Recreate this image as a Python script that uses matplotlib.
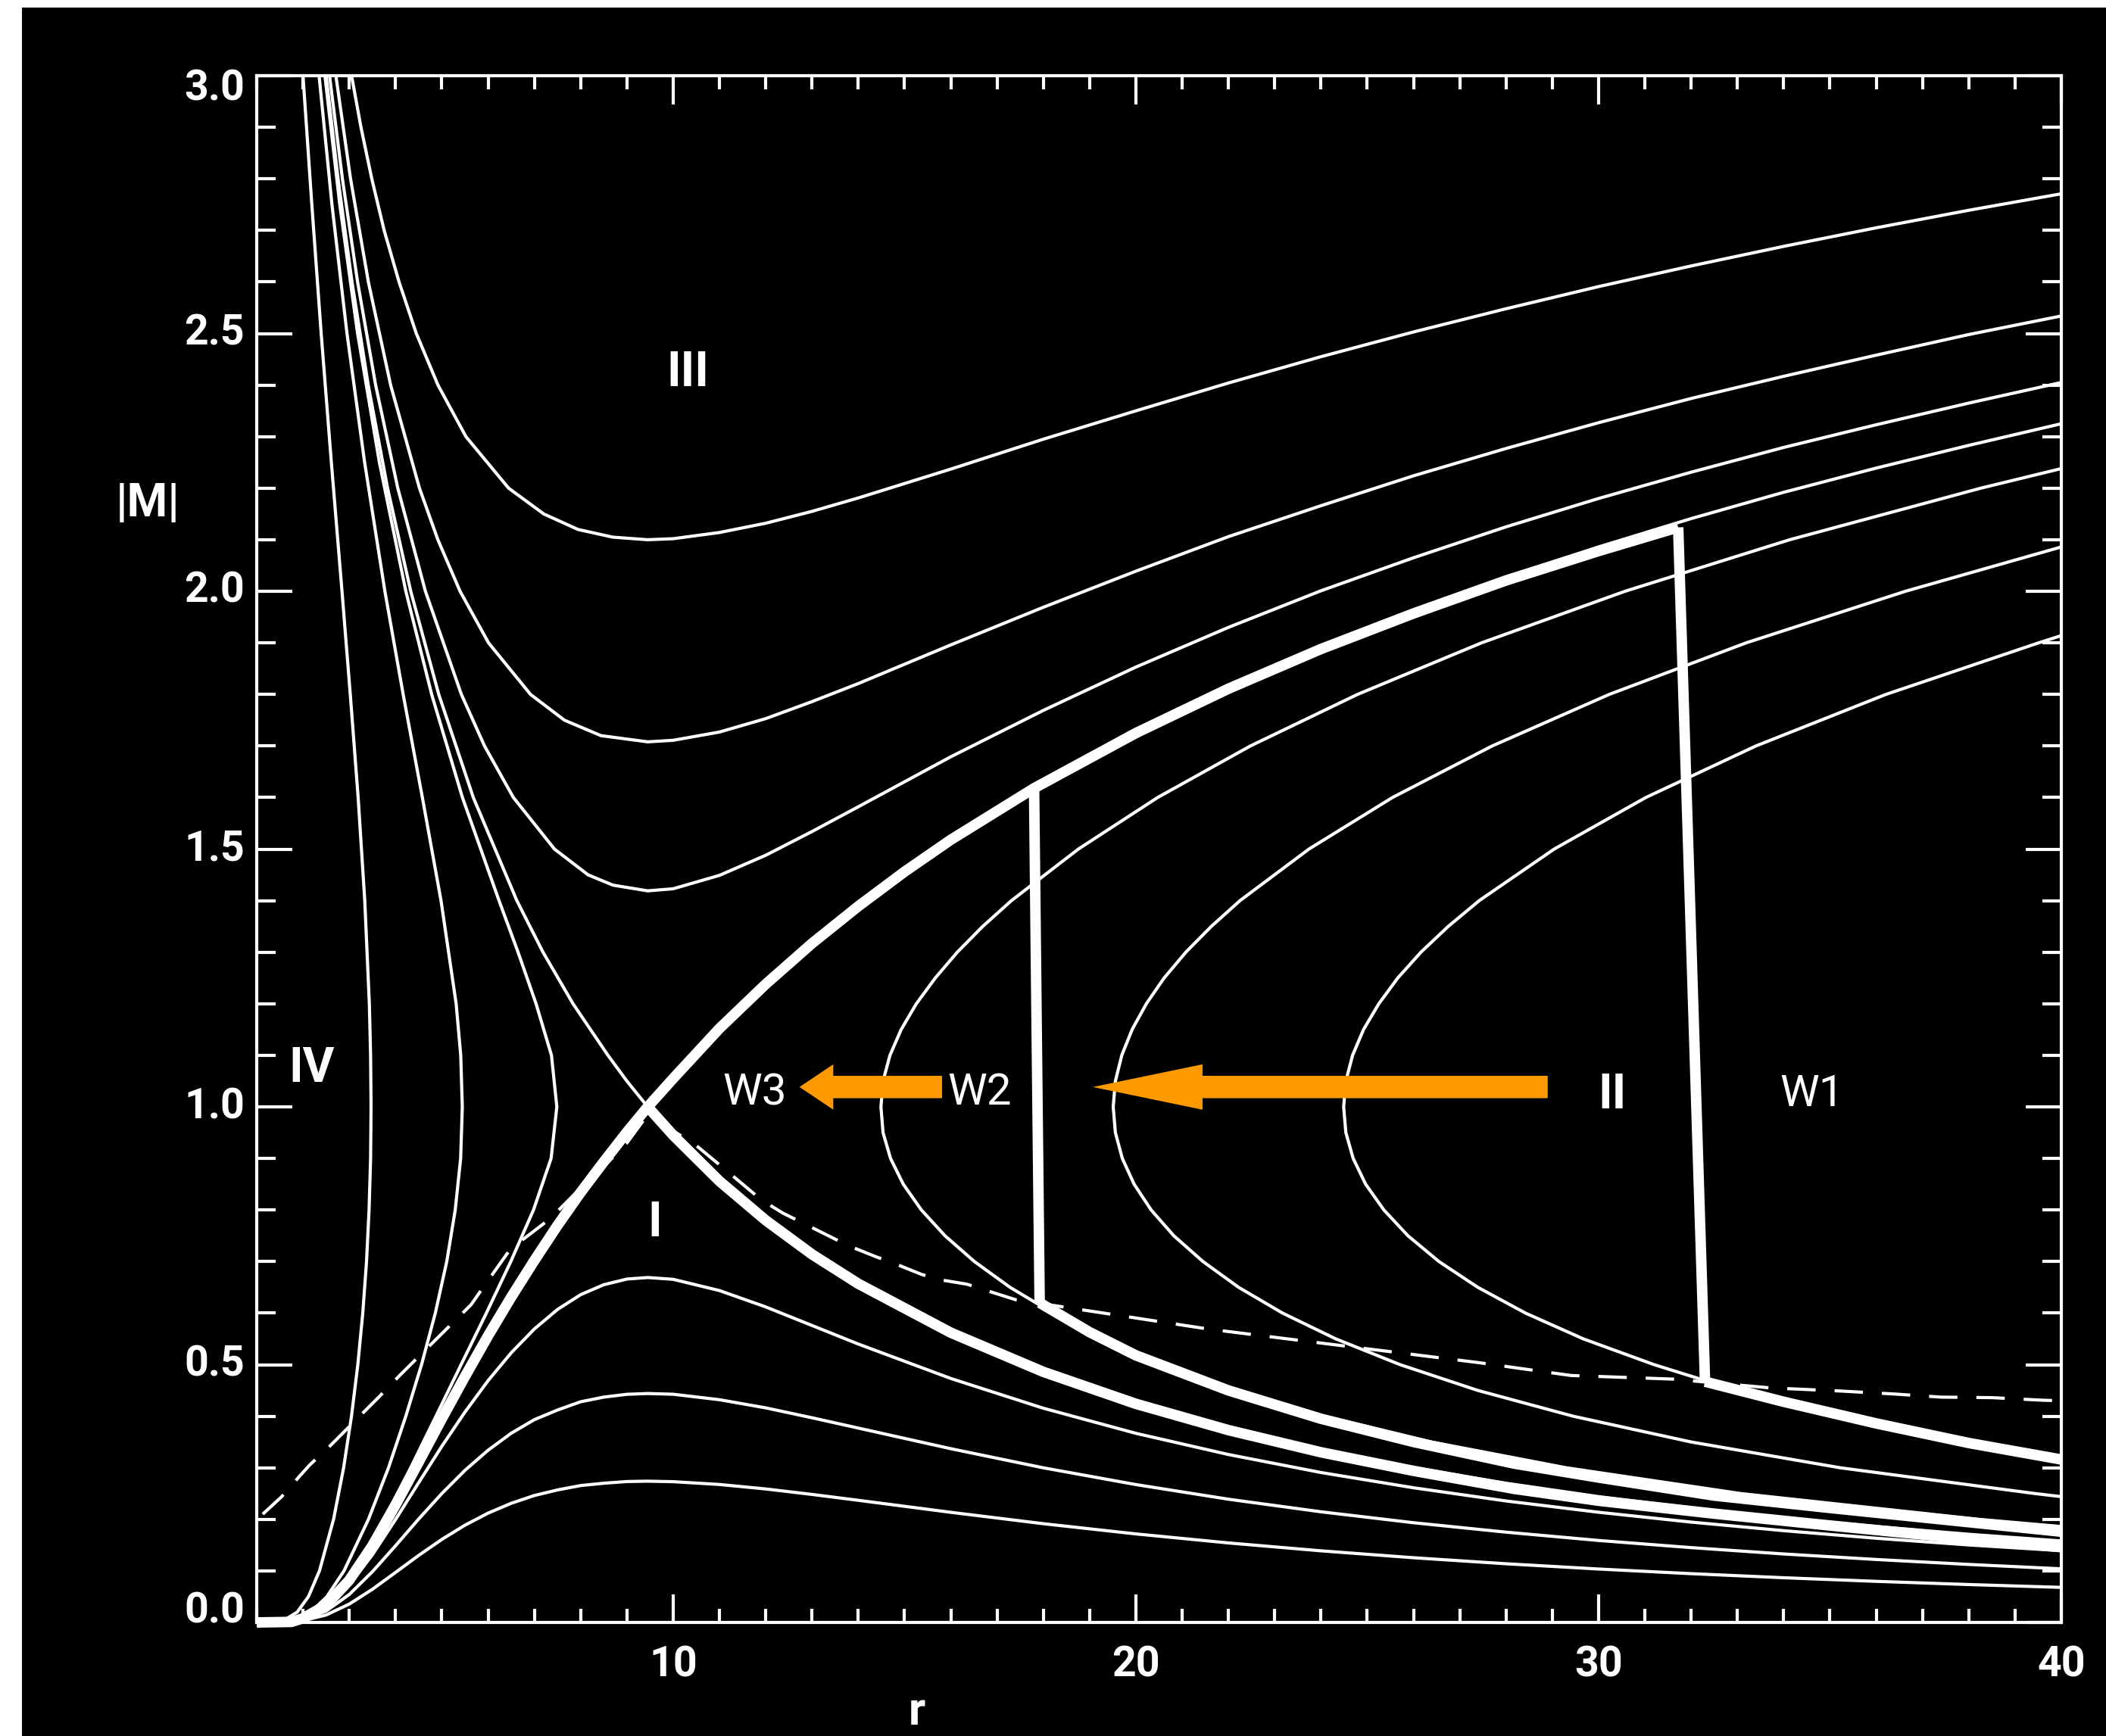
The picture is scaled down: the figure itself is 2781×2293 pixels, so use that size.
import matplotlib
matplotlib.use("Agg")
import matplotlib.pyplot as plt
from matplotlib.patches import Polygon, Rectangle
from matplotlib.transforms import blended_transform_factory

# ---------------------------------------------------------------
# Solution curves |M|(r): each curve is a pair of lists (r, M)
# ---------------------------------------------------------------
# family above the X-point (region III)
upper1_r = [3.05, 3.253, 3.487, 3.754, 4.076, 4.449, 4.917, 5.521, 6.444, 7.204, 7.941, 8.694, 9.45, 10, 11, 12,
            13, 14, 16, 18, 20, 22, 24, 26, 28, 30, 32, 34, 36, 38, 40]
upper1_m = [3.0, 2.9, 2.8, 2.7, 2.6, 2.5, 2.4, 2.3, 2.2, 2.15, 2.12, 2.105, 2.10, 2.102, 2.114, 2.132,
            2.155, 2.181, 2.237, 2.295, 2.350, 2.404, 2.455, 2.503, 2.548, 2.591, 2.631, 2.669, 2.705, 2.739, 2.771]
upper2_r = [2.711, 3.028, 3.413, 3.894, 4.517, 4.915, 5.395, 6.01, 6.917, 7.65, 8.44, 9.45, 10, 11, 12, 13, 14,
            16, 18, 20, 22, 24, 26, 28, 30, 32, 34, 36, 38, 40]
upper2_m = [3.0, 2.8, 2.6, 2.4, 2.2, 2.1, 2.0, 1.9, 1.8, 1.75, 1.72, 1.708, 1.711, 1.727, 1.753, 1.786, 1.821,
            1.896, 1.969, 2.039, 2.106, 2.166, 2.224, 2.277, 2.327, 2.374, 2.417, 2.458, 2.498, 2.534]
upper3_r = [2.574, 2.852, 3.18, 3.570, 4.049, 4.646, 5.423, 5.923, 6.547, 7.435, 8.162, 8.70, 9.45, 10, 11, 12,
            13, 14, 16, 18, 20, 22, 24, 26, 28, 30, 32, 34, 36, 38, 40]
upper3_m = [3.0, 2.8, 2.6, 2.4, 2.2, 2.0, 1.8, 1.7, 1.6, 1.5, 1.45, 1.43, 1.419, 1.423, 1.449, 1.488,
            1.534, 1.582, 1.679, 1.769, 1.853, 1.930, 2.001, 2.065, 2.125, 2.180, 2.231, 2.279, 2.323, 2.365, 2.405]

# family left of the X-point (region IV)
left1_r = [2.0, 2.191, 2.393, 2.613, 2.843, 3.022, 3.192, 3.335, 3.434, 3.461, 3.471, 3.461, 3.428, 3.373, 3.292,
           3.185, 3.048, 2.878, 2.661, 2.356, 2.117, 1.875, 1.603]
left1_m = [3.0, 2.75, 2.5, 2.25, 2.0, 1.8, 1.6, 1.4, 1.2, 1.1, 1.0, 0.9, 0.8, 0.7, 0.6,
           0.5, 0.4, 0.3, 0.2, 0.1, 0.05, 0.02, 0.005]
left2_r = [2.348, 2.626, 2.951, 3.332, 3.770, 4.165, 4.580, 4.983, 5.310, 5.409, 5.443, 5.407, 5.290, 5.107, 4.860,
           4.562, 4.222, 3.848, 3.415, 2.886, 2.516, 2.168, 1.806]
left2_m = [3.0, 2.75, 2.5, 2.25, 2.0, 1.8, 1.6, 1.4, 1.2, 1.1, 1.0, 0.9, 0.8, 0.7, 0.6,
           0.5, 0.4, 0.3, 0.2, 0.1, 0.05, 0.02, 0.005]
left3_r = [2.474, 2.795, 3.18, 3.651, 4.223, 4.781, 5.446, 6.237, 6.648, 7.037, 7.370, 7.486, 7.362, 6.981, 6.491,
           5.963, 5.417, 4.874, 4.327, 3.754, 3.101, 2.67, 2.272, 1.874]
left3_m = [3.0, 2.75, 2.5, 2.25, 2.0, 1.8, 1.6, 1.4, 1.3, 1.2, 1.1, 1.0, 0.9, 0.8, 0.7,
           0.6, 0.5, 0.4, 0.3, 0.2, 0.1, 0.05, 0.02, 0.005]

# thin critical solutions through the X-point
crit_dec_r = [2.5, 2.758, 3.059, 3.41, 3.828, 4.329, 4.934, 5.681, 6.622, 7.187, 7.836, 8.59, 9.0, 9.45, 10, 11,
              12, 13, 14, 16, 18, 20, 22, 24, 26, 28, 30, 32, 34, 36, 38, 40]
crit_dec_m = [3.0, 2.8, 2.6, 2.4, 2.2, 2.0, 1.8, 1.6, 1.4, 1.3, 1.2, 1.1, 1.05, 1.0, 0.945, 0.856,
              0.78, 0.714, 0.657, 0.562, 0.487, 0.426, 0.376, 0.334, 0.300, 0.270, 0.244, 0.222, 0.2025, 0.186,
              0.171, 0.158]
crit_acc_r = [1.0, 1.75, 2.0, 2.5, 3.0, 3.5, 4.0, 4.5, 5.0, 5.5, 6.0, 6.5, 7.0, 7.5, 8.0, 8.5, 9.0, 9.45, 10, 11,
              12, 13, 14, 15, 16, 18, 20, 22, 24, 26, 28, 30, 32, 34, 36, 38, 40]
crit_acc_m = [0.0, 0.001, 0.008, 0.0335, 0.082, 0.149, 0.228, 0.311, 0.395, 0.477, 0.556, 0.631, 0.702, 0.77, 0.834,
              0.8935, 0.951, 1.0, 1.055, 1.152, 1.238, 1.317, 1.389, 1.456, 1.518, 1.629, 1.727, 1.814, 1.892, 1.962,
              2.027, 2.086, 2.141, 2.192, 2.239, 2.283, 2.325]

# region II curves (turning points at |M| = 1)
wind1_r = [40, 38.21, 33.07, 29.30, 26.39, 24.08, 22.19, 20.62, 19.31, 18.21, 17.28, 16.51, 15.875, 15.365, 14.973,
           14.698, 14.536, 14.49, 14.536, 14.685, 14.927, 15.255, 15.665, 16.14, 16.69, 17.31, 18.757, 20.47,
           22.475, 24.79, 27.47, 30.57, 34.13, 38.26, 40]
wind1_m = [0.186, 0.2, 0.25, 0.3, 0.35, 0.4, 0.45, 0.5, 0.55, 0.6, 0.65, 0.7, 0.75, 0.8, 0.85,
           0.9, 0.95, 1.0, 1.05, 1.1, 1.15, 1.2, 1.25, 1.3, 1.35, 1.4, 1.5, 1.6,
           1.7, 1.8, 1.9, 2.0, 2.1, 2.2, 2.238]
wind2_r = [40, 39.43, 35.22, 32.0, 29.45, 27.39, 25.71, 24.32, 23.17, 22.22, 21.45, 20.82, 20.33, 19.962, 19.707,
           19.557, 19.51, 19.557, 19.695, 19.919, 20.226, 20.61, 21.08, 21.63, 22.25, 23.74, 25.545, 27.70, 30.23,
           33.19, 36.63, 40]
wind2_m = [0.244, 0.25, 0.3, 0.35, 0.4, 0.45, 0.5, 0.55, 0.6, 0.65, 0.7, 0.75, 0.8, 0.85, 0.9,
           0.95, 1.0, 1.05, 1.1, 1.15, 1.2, 1.25, 1.3, 1.35, 1.4, 1.5, 1.6, 1.7, 1.8,
           1.9, 2.0, 2.086]
wind3_r = [32.38, 31.20, 29.67, 28.42, 27.39, 26.55, 25.88, 25.36, 24.965, 24.696, 24.538, 24.49, 24.538, 24.683,
           24.92, 25.25, 25.66, 26.16, 26.75, 27.42, 29.04, 31.02, 33.40, 36.21, 39.51, 40]
wind3_m = [0.467, 0.5, 0.55, 0.6, 0.65, 0.7, 0.75, 0.8, 0.85, 0.9, 0.95, 1.0, 1.05, 1.1,
           1.15, 1.2, 1.25, 1.3, 1.35, 1.4, 1.5, 1.6, 1.7, 1.8, 1.9, 1.914]

# region I curves (subsonic breezes)
breeze_r = [2.0, 2.5, 3.0, 3.5, 4.0, 4.5, 5.0, 5.5, 6.0, 6.5, 7.0, 7.5, 8.0, 8.5, 9.0, 9.45, 10, 11, 12, 13, 14,
            16, 18, 20, 22, 24, 26, 28, 30, 32, 34, 36, 38, 40]
breeze1_m = [0.0069, 0.0294, 0.0722, 0.1312, 0.1996, 0.2711, 0.3416, 0.408, 0.469, 0.523, 0.5692, 0.607, 0.6357,
             0.655, 0.666, 0.669, 0.6655, 0.6437, 0.612, 0.576, 0.54, 0.4732, 0.4155, 0.3668, 0.3257, 0.2908,
             0.2612, 0.2356, 0.2137, 0.1946, 0.178, 0.1633, 0.1503, 0.1392]
breeze2_m = [0.0052, 0.0221, 0.0542, 0.0984, 0.1488, 0.2006, 0.25, 0.295, 0.334, 0.367, 0.3933, 0.412, 0.428,
             0.437, 0.4425, 0.444, 0.4426, 0.432, 0.4162, 0.397, 0.377, 0.337, 0.2999, 0.2674, 0.239, 0.2146,
             0.1934, 0.1751, 0.159, 0.1451, 0.1328, 0.1221, 0.1125, 0.104]
breeze3_m = [0.0034, 0.0145, 0.0356, 0.0643, 0.097, 0.13, 0.161, 0.1886, 0.212, 0.2311, 0.2462, 0.257, 0.2655,
             0.270, 0.2733, 0.274, 0.273, 0.2676, 0.2589, 0.2483, 0.2369, 0.2136, 0.1915, 0.1717, 0.1542, 0.1389,
             0.1255, 0.1138, 0.1036, 0.0946, 0.0867, 0.0797, 0.0735, 0.068]

# dashed reference curve
dashed_r = [1.13, 1.54, 1.92, 2.14, 2.58, 3.67, 4.10, 5.19, 5.63, 5.88, 6.48, 7.34, 7.74, 8.10, 8.40, 9.0, 9.45,
            10.5, 11.17, 11.90, 12.37, 13.78, 14.39, 14.76, 15.37, 15.75, 16.35, 16.8, 17.4, 21.57, 27.4, 29.4,
            31.6, 33.7, 35.2, 36.4, 37.4, 38.5, 39.6, 40.0]
dashed_m = [0.21, 0.244, 0.283, 0.305, 0.342, 0.440, 0.480, 0.577, 0.616, 0.648, 0.724, 0.783, 0.819, 0.852, 0.875,
            0.93, 0.985, 0.925, 0.875, 0.820, 0.794, 0.731, 0.709, 0.697, 0.675, 0.665, 0.656, 0.643, 0.626, 0.569,
            0.504, 0.479, 0.472, 0.455, 0.449, 0.443, 0.437, 0.436, 0.431, 0.430]

# heavy lines: transonic solutions, shocks and post-shock flows
accel_r = [1.0, 1.75, 2.0, 2.5, 3.0, 3.5, 4.0, 4.5, 5.0, 5.5, 6.0, 6.5, 7.0, 7.5, 8.0, 8.5, 9.0, 9.45, 10, 11,
           12, 13, 14, 15, 16, 17.8, 20, 22, 24, 26, 28, 30, 31.72]
accel_m = [0.0, 0.001, 0.008, 0.0335, 0.082, 0.149, 0.228, 0.311, 0.395, 0.477, 0.556, 0.631, 0.702, 0.77, 0.834,
           0.8935, 0.951, 1.0, 1.055, 1.152, 1.238, 1.317, 1.389, 1.456, 1.518, 1.618, 1.725, 1.811, 1.888, 1.957,
           2.021, 2.078, 2.124]
decel_r = [9.45, 10, 11, 12, 13, 14, 16, 18, 20, 22, 24, 26, 28.18, 30, 32.5, 35, 37.5, 40]
decel_m = [1.0, 0.945, 0.856, 0.78, 0.714, 0.657, 0.562, 0.486, 0.424, 0.373, 0.330, 0.294, 0.259, 0.236, 0.211,
           0.188, 0.166, 0.146]
shock1_r = [17.80, 17.92]
shock1_m = [1.618, 0.62]
post1_r = [17.92, 19, 20, 22, 24, 26, 28.18, 30, 32.5, 35, 37.5, 40]
post1_m = [0.62, 0.563, 0.518, 0.45, 0.395, 0.35, 0.308, 0.281, 0.246, 0.222, 0.199, 0.176]
shock2_r = [31.72, 32.30]
shock2_m = [2.124, 0.467]
post2_r = [32.30, 34, 36, 38, 40]
post2_m = [0.467, 0.428, 0.386, 0.348, 0.316]

# axis ticks
x_major = [10, 20, 30, 40]
x_minor = list(range(1, 41))
y_major = [0.0, 0.5, 1.0, 1.5, 2.0, 2.5, 3.0]
y_minor = [i / 10 for i in range(0, 31)]
y_labels = ["0.0", "0.5", "1.0", "1.5", "2.0", "2.5", "3.0"]
y_label_shift = [0.022, 0, 0, 0, 0, 0, -0.025]
x_labels = ["10", "20", "30", "40"]

# region labels: (text, r, M)
region_labels = [("III", 10.31, 2.423), ("IV", 2.19, 1.074), ("I", 9.60, 0.774), ("II", 30.29, 1.023)]
wave_labels = [("W1", 34.61, 1.024), ("W2", 16.62, 1.027), ("W3", 11.77, 1.027)]

# orange arrows: (tail r, head-base r, tip r, M)
arrows = [(28.90, 21.44, 19.07, 1.0385), (15.81, 13.46, 12.73, 1.0385)]
arrow_color = "#ff9900"

# ---------------------------------------------------------------
W, H = 2781, 2293
fig = plt.figure(figsize=(W / 100, H / 100), dpi=100, facecolor="white")
fig.patches.append(Rectangle((29 / W, 0), 1, 1 - 10 / H, transform=fig.transFigure,
                             facecolor="black", edgecolor="none", zorder=-10))
ax = fig.add_axes([339 / W, 1 - 2143 / H, (2722 - 339) / W, (2143 - 100) / H])
ax.set_facecolor("black")
ax.set_xlim(1, 40)
ax.set_ylim(0, 3)

thin = dict(color="white", lw=3.0, solid_joinstyle="round", solid_capstyle="butt")
thick = dict(color="white", lw=10.0, solid_joinstyle="round", solid_capstyle="butt")

for rr, mm in [(upper1_r, upper1_m), (upper2_r, upper2_m), (upper3_r, upper3_m),
               (left1_r, left1_m), (left2_r, left2_m), (left3_r, left3_m),
               (crit_dec_r, crit_dec_m), (crit_acc_r, crit_acc_m),
               (wind1_r, wind1_m), (wind2_r, wind2_m), (wind3_r, wind3_m),
               (breeze_r, breeze1_m), (breeze_r, breeze2_m), (breeze_r, breeze3_m)]:
    ax.plot(rr, mm, **thin)

ax.plot(dashed_r, dashed_m, color="white", lw=3.0, linestyle=(0, (9, 6)))

ax.plot(accel_r, accel_m, clip_on=False, **thick)
for rr, mm in [(decel_r, decel_m), (shock1_r, shock1_m), (post1_r, post1_m),
               (shock2_r, shock2_m), (post2_r, post2_m)]:
    ax.plot(rr, mm, **thick)

# arrows pointing inward
shaft_half = 0.0217
head_half = 0.044
for tail, base, tip, m in arrows:
    pts = [(tail, m - shaft_half), (tail, m + shaft_half), (base, m + shaft_half), (base, m + head_half),
           (tip, m), (base, m - head_half), (base, m - shaft_half)]
    ax.add_patch(Polygon(pts, closed=True, facecolor=arrow_color, edgecolor="none", zorder=5))

for txt, r, m in region_labels:
    ax.text(r, m, txt, color="white", fontsize=46, fontweight="bold", family=["Roboto", "DejaVu Sans"],
            ha="center", va="center")
for txt, r, m in wave_labels:
    ax.text(r, m, txt, color="white", fontsize=42, fontweight="normal", family=["Roboto", "DejaVu Sans"],
            ha="center", va="center")

# frame and ticks
for s in ax.spines.values():
    s.set_color("white")
    s.set_linewidth(3.0)
ax.set_xticks(x_major)
ax.set_xticks(x_minor, minor=True)
ax.set_yticks(y_major)
ax.set_yticks(y_minor, minor=True)
ax.set_xticklabels(x_labels)
ax.set_yticklabels([])
ax.tick_params(axis="both", which="both", direction="in", color="white", width=3.0,
               top=True, right=True, labelcolor="white")
ax.tick_params(axis="x", which="major", length=27, pad=22)
ax.tick_params(axis="x", which="minor", length=13)
ax.tick_params(axis="y", which="major", length=34, pad=10)
ax.tick_params(axis="y", which="minor", length=18)
for lab in ax.get_xticklabels():
    lab.set_fontfamily(["Roboto", "DejaVu Sans"])
    lab.set_fontweight("bold")
    lab.set_fontsize(40)

# y tick labels, the end ones nudged inside the axis range
ylab_trans = blended_transform_factory(ax.transAxes, ax.transData)
for val, txt, shift in zip(y_major, y_labels, y_label_shift):
    ax.text(-16 / 2383, val + shift, txt, transform=ylab_trans, color="white", fontsize=40,
            fontweight="bold", family=["Roboto", "DejaVu Sans"], ha="right", va="center", clip_on=False)

ax.text(-1.36, 2.17, "|M|", color="white", fontsize=44, fontweight="bold",
        family=["Roboto", "DejaVu Sans"], ha="center", va="center", clip_on=False)
ax.text(15.27, -0.2158, "r", color="white", fontsize=44, fontweight="bold",
        family=["Roboto", "DejaVu Sans"], ha="center", va="bottom", clip_on=False)

fig.savefig("out.png", dpi=100, facecolor=fig.get_facecolor())
